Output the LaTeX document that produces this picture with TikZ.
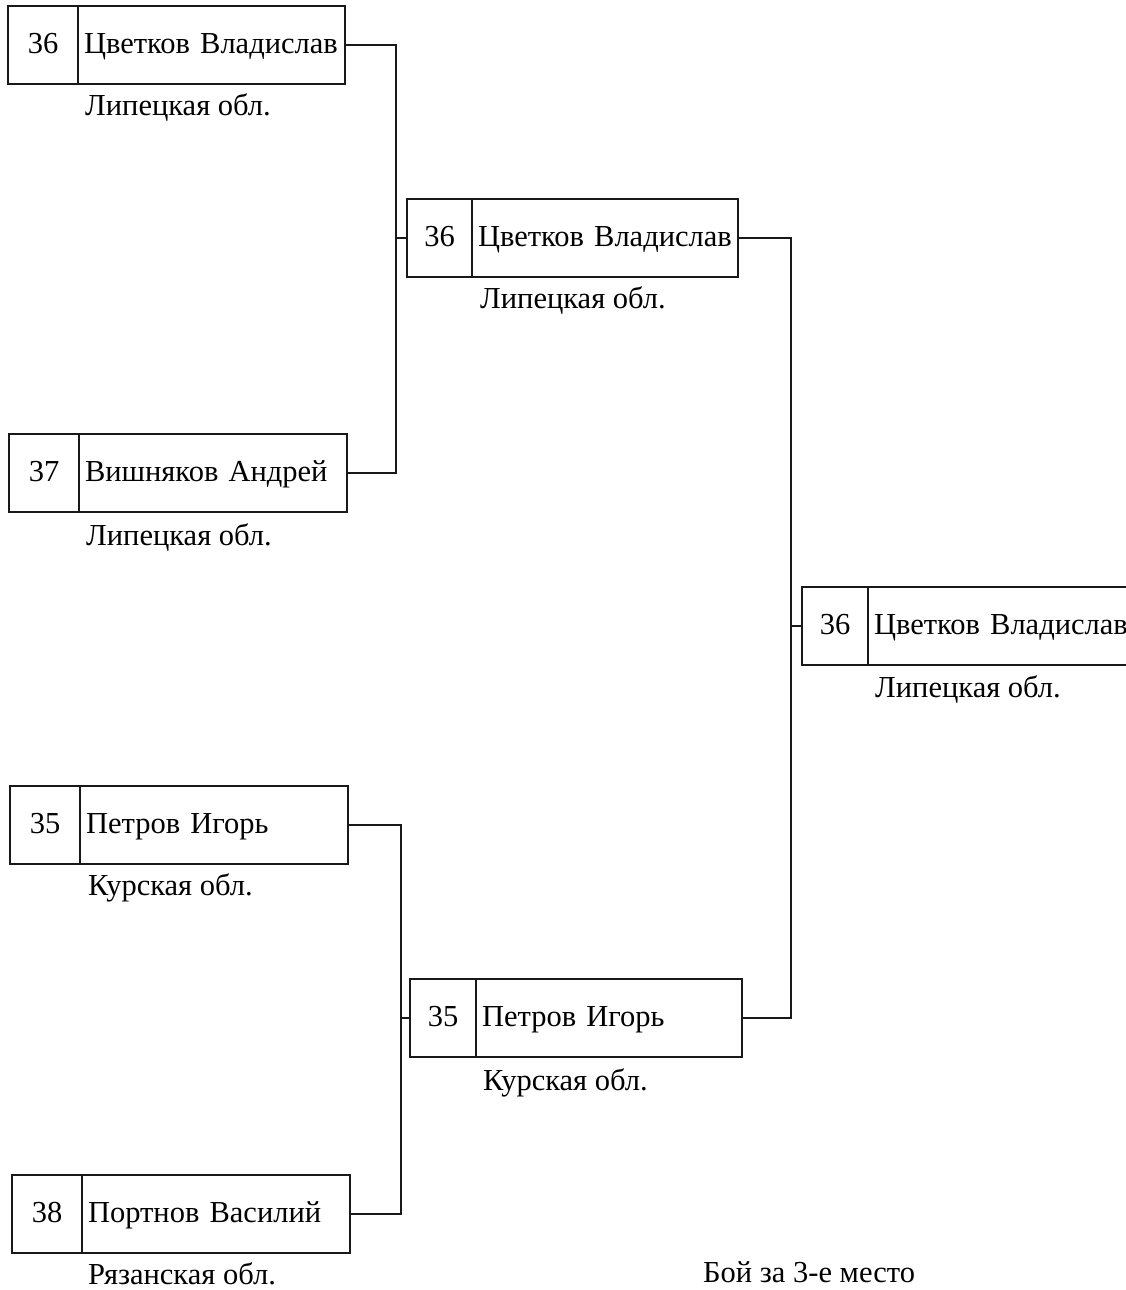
\documentclass[tikz,border=0pt]{standalone}
\usepackage{fontspec}
\setmainfont{Liberation Serif}
\usetikzlibrary{positioning}
\tikzset{
  cell/.style={draw=black!90, line width=1.8pt, minimum height=78pt, inner sep=0pt, outer sep=0pt, anchor=north west, text height=20pt, text depth=4pt, font=\fontsize{30.5}{33}\selectfont},
  numcell/.style={cell},
  namecell/.style={cell, align=left, inner xsep=6pt},
  region/.style={anchor=base west, inner sep=0pt, font=\fontsize{30.5}{33}\selectfont},
  link/.style={draw=black!90, line width=1.8pt},
}
\begin{document}
\begin{tikzpicture}[x=1pt,y=-1pt]
\useasboundingbox (0,0) rectangle (1126,1290);
% entry 1
\node[numcell, minimum width=70pt] (n1) at (8,6) {36};
\node[namecell, minimum width=267pt, text width=255pt] (b1) at (n1.north east) {Цветков Владислав};
\node[region] (r1) at (85,115) {Липецкая обл.};
% entry 2
\node[numcell, minimum width=70pt] (n2) at (9,434) {37};
\node[namecell, minimum width=268pt, text width=256pt] (b2) at (n2.north east) {Вишняков Андрей};
\node[region] (r2) at (86,545) {Липецкая обл.};
% entry 3
\node[numcell, minimum width=65pt] (n3) at (407,199) {36};
\node[namecell, minimum width=266pt, text width=254pt] (b3) at (n3.north east) {Цветков Владислав};
\node[region] (r3) at (480,308) {Липецкая обл.};
% entry 4 (final)
\node[numcell, minimum width=66pt] (n5) at (802,587) {36};
\node[namecell, minimum width=280pt, text width=268pt] (b5) at (n5.north east) {Цветков Владислав};
\node[region] (r5) at (875,697) {Липецкая обл.};
% entry 5
\node[numcell, minimum width=70pt] (n6) at (10,786) {35};
\node[namecell, minimum width=268pt, text width=256pt] (b6) at (n6.north east) {Петров Игорь};
\node[region] (r6) at (88,895) {Курская обл.};
% entry 6
\node[numcell, minimum width=66pt] (n7) at (410,979) {35};
\node[namecell, minimum width=266pt, text width=254pt] (b7) at (n7.north east) {Петров Игорь};
\node[region] (r7) at (483,1090) {Курская обл.};
% entry 7
\node[numcell, minimum width=70pt] (n8) at (12,1175) {38};
\node[namecell, minimum width=268pt, text width=256pt] (b8) at (n8.north east) {Портнов Василий};
\node[region] (r8) at (88,1284) {Рязанская обл.};
% caption
\node[region] (cap) at (703,1282) {Бой за 3-е место};
% connectors
\coordinate (j1) at (396,45);
\coordinate (j2) at (791,238);
\coordinate (j3) at (401,825);
\draw[link] (b1.east) -| (j1) |- (b2.east);
\draw[link] (n3.west) -- (n3.west -| j1);
\draw[link] (b3.east) -| (j2) |- (b7.east);
\draw[link] (n5.west) -- (n5.west -| j2);
\draw[link] (b6.east) -| (j3) |- (b8.east);
\draw[link] (n7.west) -- (n7.west -| j3);
\end{tikzpicture}
\end{document}
